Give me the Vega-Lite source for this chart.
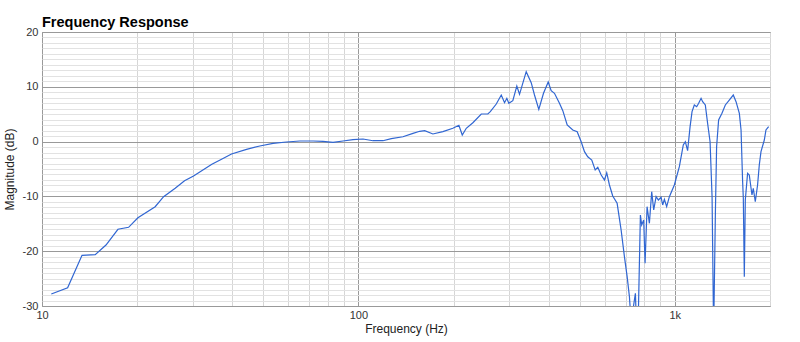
{
  "$schema": "https://vega.github.io/schema/vega-lite/v6.json",
  "width": 728,
  "height": 274,
  "autosize": {"type": "none"},
  "padding": {"left": 42, "top": 32, "right": 30, "bottom": 36},
  "background": "white",
  "title": {"text": "Frequency Response", "anchor": "start", "frame": "group", "font": "Liberation Sans", "fontSize": 14.5, "fontWeight": "bold", "color": "#000", "baseline": "bottom", "offset": 0, "dy": 18},
  "config": {"view": {"stroke": "#999", "strokeWidth": 1}},
  "data": {"values": [
    {"freq": 10.70, "db": -27.81}, {"freq": 12.05, "db": -26.66}, {"freq": 13.38, "db": -20.75}, {"freq": 14.73, "db": -20.64},
    {"freq": 15.93, "db": -18.87}, {"freq": 17.38, "db": -16.0}, {"freq": 18.78, "db": -15.64}, {"freq": 20.10, "db": -13.89},
    {"freq": 22.79, "db": -11.88}, {"freq": 24.23, "db": -10.05}, {"freq": 26.36, "db": -8.52}, {"freq": 28.22, "db": -7.14},
    {"freq": 30.13, "db": -6.28}, {"freq": 34.42, "db": -4.14}, {"freq": 36.94, "db": -3.23}, {"freq": 39.72, "db": -2.26},
    {"freq": 44.31, "db": -1.41}, {"freq": 48.80, "db": -0.80}, {"freq": 53.74, "db": -0.31}, {"freq": 59.25, "db": -0.07},
    {"freq": 65.27, "db": 0.11}, {"freq": 71.89, "db": 0.11}, {"freq": 77.30, "db": 0.05}, {"freq": 83.15, "db": -0.13},
    {"freq": 89.42, "db": 0.11}, {"freq": 96.16, "db": 0.35}, {"freq": 103.4, "db": 0.47}, {"freq": 111.2, "db": 0.16},
    {"freq": 119.6, "db": 0.16}, {"freq": 127.1, "db": 0.53}, {"freq": 138.3, "db": 0.89}, {"freq": 148.8, "db": 1.51},
    {"freq": 156.2, "db": 1.88}, {"freq": 162.0, "db": 1.99}, {"freq": 172.0, "db": 1.39}, {"freq": 185.0, "db": 1.81},
    {"freq": 198.9, "db": 2.43}, {"freq": 207.8, "db": 2.97}, {"freq": 213.0, "db": 1.20}, {"freq": 219.3, "db": 2.43},
    {"freq": 230.1, "db": 3.45}, {"freq": 244.6, "db": 5.04}, {"freq": 256.6, "db": 5.04}, {"freq": 261.2, "db": 5.46},
    {"freq": 272.8, "db": 6.86}, {"freq": 282.9, "db": 8.50}, {"freq": 289.7, "db": 7.10}, {"freq": 294.6, "db": 7.90},
    {"freq": 298.9, "db": 6.99}, {"freq": 307.7, "db": 7.46}, {"freq": 316.8, "db": 10.15}, {"freq": 323.1, "db": 8.63},
    {"freq": 339.2, "db": 12.76}, {"freq": 351.8, "db": 10.75}, {"freq": 360.3, "db": 8.50}, {"freq": 371.8, "db": 5.89},
    {"freq": 384.7, "db": 8.81}, {"freq": 398.1, "db": 10.88}, {"freq": 406.8, "db": 9.29}, {"freq": 416.7, "db": 8.81},
    {"freq": 432.1, "db": 6.99}, {"freq": 442.7, "db": 5.64}, {"freq": 457.1, "db": 3.03}, {"freq": 476.1, "db": 2.12},
    {"freq": 491.6, "db": 1.81}, {"freq": 506.1, "db": -0.02}, {"freq": 518.4, "db": -1.84}, {"freq": 530.9, "db": -2.76},
    {"freq": 546.6, "db": -3.36}, {"freq": 560.4, "db": -5.18}, {"freq": 571.1, "db": -4.69}, {"freq": 585.4, "db": -6.09},
    {"freq": 599.6, "db": -7.01}, {"freq": 609.5, "db": -5.68}, {"freq": 621.6, "db": -7.92}, {"freq": 636.7, "db": -9.93},
    {"freq": 657.4, "db": -11.26}, {"freq": 676.8, "db": -16.13}, {"freq": 693.3, "db": -21.0}, {"freq": 707.1, "db": -24.65},
    {"freq": 719.0, "db": -28.30}, {"freq": 727.8, "db": -33.0}, {"freq": 750.9, "db": -27.68}, {"freq": 756.4, "db": -33.0},
    {"freq": 767.5, "db": -31.0}, {"freq": 778.7, "db": -13.39}, {"freq": 786.1, "db": -15.22}, {"freq": 797.6, "db": -14.31},
    {"freq": 805.7, "db": -22.21}, {"freq": 817.5, "db": -11.88}, {"freq": 831.4, "db": -14.91}, {"freq": 845.5, "db": -9.14},
    {"freq": 857.9, "db": -12.48}, {"freq": 873.0, "db": -10.05}, {"freq": 887.6, "db": -10.66}, {"freq": 905.4, "db": -10.16},
    {"freq": 915.9, "db": -11.57}, {"freq": 927.3, "db": -10.53}, {"freq": 942.8, "db": -11.88}, {"freq": 961.6, "db": -10.05},
    {"freq": 997.0, "db": -7.92}, {"freq": 1034, "db": -4.58}, {"freq": 1064, "db": -0.62}, {"freq": 1080, "db": -0.02},
    {"freq": 1098, "db": -1.66}, {"freq": 1118, "db": 2.72}, {"freq": 1134, "db": 5.46}, {"freq": 1153, "db": 6.68},
    {"freq": 1173, "db": 6.37}, {"freq": 1190, "db": 6.99}, {"freq": 1211, "db": 7.90}, {"freq": 1225, "db": 7.28},
    {"freq": 1249, "db": 6.68}, {"freq": 1270, "db": 3.34}, {"freq": 1293, "db": -0.02}, {"freq": 1312, "db": -10.05},
    {"freq": 1327, "db": -35.0}, {"freq": 1344, "db": -13.08}, {"freq": 1356, "db": -0.93}, {"freq": 1376, "db": 3.94},
    {"freq": 1410, "db": 5.16}, {"freq": 1445, "db": 6.68}, {"freq": 1487, "db": 7.59}, {"freq": 1531, "db": 8.50},
    {"freq": 1562, "db": 7.28}, {"freq": 1600, "db": 5.16}, {"freq": 1620, "db": 2.12}, {"freq": 1638, "db": -7.01},
    {"freq": 1647, "db": -10.35}, {"freq": 1659, "db": -24.65}, {"freq": 1671, "db": -10.66}, {"freq": 1699, "db": -5.78},
    {"freq": 1720, "db": -6.09}, {"freq": 1754, "db": -9.74}, {"freq": 1771, "db": -8.52}, {"freq": 1797, "db": -10.97},
    {"freq": 1827, "db": -7.92}, {"freq": 1850, "db": -4.27}, {"freq": 1873, "db": -1.84}, {"freq": 1919, "db": 0.29},
    {"freq": 1942, "db": 2.12}, {"freq": 1980, "db": 2.72}
  ]},
  "mark": {"type": "line", "clip": true, "color": "#3066d2", "strokeWidth": 1.2},
  "encoding": {
    "x": {
      "field": "freq", "type": "quantitative",
      "scale": {"type": "log", "domain": [10, 2000], "nice": false},
      "axis": {
        "values": [10, 20, 30, 40, 50, 60, 70, 80, 90, 100, 200, 300, 400, 500, 600, 700, 800, 900, 1000, 2000],
        "labelExpr": "datum.value == 1000 ? '1k' : (datum.value == 10 || datum.value == 100) ? '' + datum.value : ''",
        "labelOverlap": false, "labelFlush": false,
        "labelFont": "Liberation Sans", "labelFontSize": 11, "labelColor": "#333", "labelPadding": 3,
        "domain": false, "ticks": false,
        "grid": true,
        "gridColor": {"condition": {"test": "datum.value == 10 || datum.value == 100 || datum.value == 1000", "value": "#999999"}, "value": "#d6d6d6"},
        "gridWidth": 1,
        "title": "Frequency (Hz)", "titleFont": "Liberation Sans", "titleFontSize": 12, "titleFontWeight": "normal", "titleColor": "#222", "titlePadding": 3
      }
    },
    "y": {
      "field": "db", "type": "quantitative",
      "scale": {"domain": [-30, 20], "nice": false},
      "axis": {
        "values": [-30, -29, -28, -27, -26, -25, -24, -23, -22, -21, -20, -19, -18, -17, -16, -15, -14, -13, -12, -11, -10, -9, -8, -7, -6, -5, -4, -3, -2, -1, 0, 1, 2, 3, 4, 5, 6, 7, 8, 9, 10, 11, 12, 13, 14, 15, 16, 17, 18, 19, 20],
        "labelExpr": "datum.value % 10 == 0 ? '' + datum.value : ''",
        "labelOverlap": false, "labelFlush": false,
        "labelFont": "Liberation Sans", "labelFontSize": 11, "labelColor": "#333", "labelPadding": 4,
        "domain": false, "ticks": false,
        "grid": true,
        "gridColor": {"condition": {"test": "datum.value % 10 == 0", "value": "#999999"}, "value": "#e2e2e2"},
        "gridWidth": 1,
        "title": "Magnitude (dB)", "titleFont": "Liberation Sans", "titleFontSize": 12, "titleFontWeight": "normal", "titleColor": "#222", "titlePadding": 6
      }
    }
  }
}
